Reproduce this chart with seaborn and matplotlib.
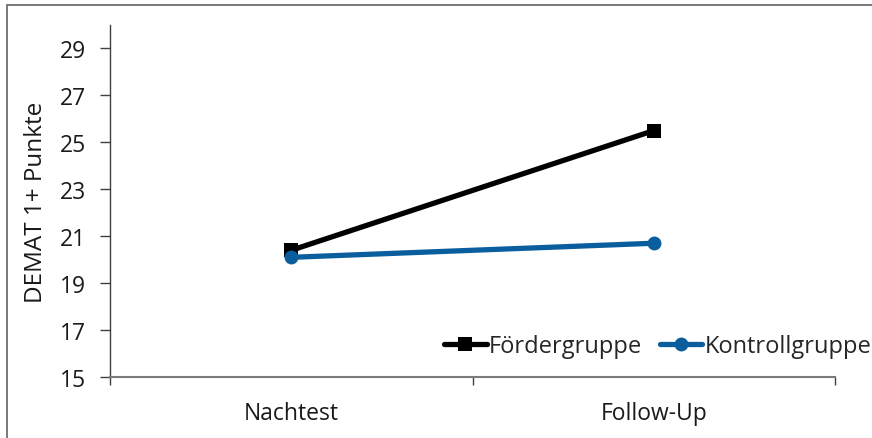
import matplotlib
matplotlib.use("Agg")
import matplotlib.pyplot as plt
from matplotlib.patches import Rectangle
from matplotlib.lines import Line2D
import seaborn as sns
import pandas as pd

# Messzeitpunkte und Gruppenmittelwerte (DEMAT 1+)
zeitpunkte = ["Nachtest", "Follow-Up"]
foerdergruppe = [20.4, 25.5]
kontrollgruppe = [20.1, 20.7]
gruppen = ["Fördergruppe", "Kontrollgruppe"]
y_ticks = [15, 17, 19, 21, 23, 25, 27, 29]

farben = {"Fördergruppe": "#000000", "Kontrollgruppe": "#0b5e9e"}
marker = {"Fördergruppe": "s", "Kontrollgruppe": "o"}

df = pd.DataFrame({
    "Zeitpunkt": list(range(len(zeitpunkte))) * 2,
    "Punkte": foerdergruppe + kontrollgruppe,
    "Gruppe": [gruppen[0]] * len(zeitpunkte) + [gruppen[1]] * len(zeitpunkte),
})

sns.set_theme(style="white")
plt.rcParams["font.family"] = ["Open Sans", "DejaVu Sans"]
FS = 16.5

fig = plt.figure(figsize=(8.72, 4.39), dpi=100)
fig.patch.set_facecolor("white")
# Rahmen um die Grafik
fig.add_artist(Rectangle((7 / 872, -0.1), 1.2, 1 - 6 / 439 + 0.1,
                         transform=fig.transFigure, fill=False,
                         edgecolor="#6e6e6e", linewidth=1.3))

ax = fig.add_axes([110 / 872, 1 - 378 / 439, (835 - 110) / 872, (378 - 26) / 439])

for g in gruppen:
    sub = df[df["Gruppe"] == g]
    sns.lineplot(data=sub, x="Zeitpunkt", y="Punkte", ax=ax,
                 color=farben[g], marker=marker[g], markersize=10,
                 markeredgewidth=0, linewidth=3.8, legend=False)

ax.set_xlim(-0.5, len(zeitpunkte) - 0.5)
ax.set_ylim(15, 30)
ax.set_yticks(y_ticks)
ax.set_yticklabels([str(t) for t in y_ticks], fontsize=FS, color="#1a1a1a")
ax.set_xticks([i - 0.5 for i in range(len(zeitpunkte) + 1)])
ax.set_xticklabels([])
ax.set_xticks(range(len(zeitpunkte)), minor=True)
ax.set_xticklabels(zeitpunkte, minor=True, fontsize=FS, color="#1a1a1a")
ax.tick_params(axis="x", which="major", length=6, width=1, color="#404040", direction="out", bottom=True)
ax.tick_params(axis="x", which="minor", length=0, pad=17)
ax.tick_params(axis="y", length=7, width=1, color="#404040", direction="out", left=True, pad=10)

ax.set_xlabel("")
ax.set_ylabel("DEMAT 1+ Punkte", fontsize=FS + 1, color="#1a1a1a", labelpad=9)

for s in ["top", "right"]:
    ax.spines[s].set_visible(False)
ax.spines["left"].set_color("#404040")
ax.spines["left"].set_linewidth(1.0)
ax.spines["bottom"].set_color("#7a7a7a")
ax.spines["bottom"].set_linewidth(1.5)

handles = [Line2D([], [], color=farben[g], marker=marker[g], markersize=10,
                  markeredgewidth=0, linewidth=3.8) for g in gruppen]
fig.legend(handles, gruppen, ncol=2, loc="center left",
           bbox_to_anchor=(444 / 872, 1 - 347 / 439), frameon=False,
           fontsize=FS + 0.5, handlelength=1.8, handletextpad=0.1,
           columnspacing=0.75, borderaxespad=0, borderpad=0)

fig.savefig("out.png", dpi=100, facecolor="white")
